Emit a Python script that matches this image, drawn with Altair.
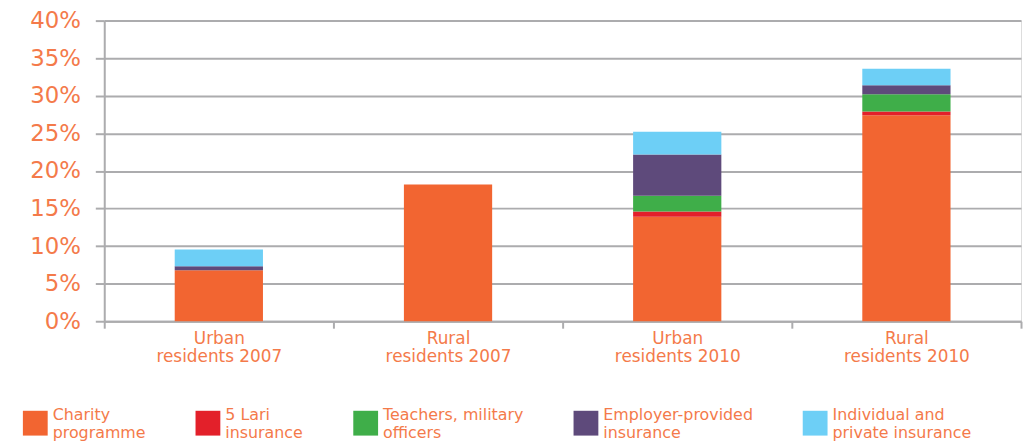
import altair as alt
import pandas as pd

groups = ["Urban|residents 2007", "Rural|residents 2007", "Urban|residents 2010", "Rural|residents 2010"]
series = ["Charity|programme", "5 Lari|insurance", "Teachers, military|officers",
          "Employer-provided|insurance", "Individual and|private insurance"]
colors = ["#F26531", "#E3202A", "#3FAE49", "#5E4A7B", "#6DCFF6"]

charity = [6.8, 18.2, 13.9, 27.4]
lari = [0.0, 0.0, 0.7, 0.5]
teachers = [0.0, 0.0, 2.1, 2.3]
employer = [0.5, 0.0, 5.5, 1.2]
individual = [2.25, 0.0, 3.0, 2.2]

values = [charity, lari, teachers, employer, individual]
rows = []
for si, (s, vals) in enumerate(zip(series, values)):
    for g, v in zip(groups, vals):
        rows.append({"group": g, "series": s, "value": v, "order": si})
df = pd.DataFrame(rows)

txt = "#F47A4A"
grid = "#ACACAE"
font = "DejaVu Sans"

chart = alt.Chart(df).mark_bar(width={"band": 0.385}).encode(
    x=alt.X("group:N", sort=groups, title=None,
            scale=alt.Scale(paddingInner=0, paddingOuter=0),
            axis=alt.Axis(labelExpr="split(datum.label, '|')", labelAngle=0,
                          labelFontSize=17, labelColor=txt, labelFont=font,
                          labelLineHeight=19,
                          tickBand="extent", tickSize=7, tickColor=grid, tickWidth=2,
                          domainColor=grid, domainWidth=2, labelPadding=2,
                          labelBaseline="top")),
    y=alt.Y("value:Q", stack="zero", title=None,
            scale=alt.Scale(domain=[0, 40], nice=False),
            axis=alt.Axis(values=[0, 5, 10, 15, 20, 25, 30, 35, 40],
                          labelExpr="datum.value + '%'", labelFontSize=23,
                          labelColor=txt, labelFont=font,
                          tickSize=9, tickColor=grid, tickWidth=2,
                          gridColor=grid, gridWidth=2, gridOpacity=1,
                          domainColor=grid, domainWidth=2, labelPadding=15)),
    color=alt.Color("series:N", sort=series,
                    scale=alt.Scale(domain=series, range=colors),
                    legend=alt.Legend(title=None, orient="none", legendX=-82, legendY=393,
                                      direction="horizontal", columns=5, columnPadding=50,
                                      symbolType="square", symbolSize=625,
                                      symbolStrokeWidth=0, symbolOpacity=1,
                                      labelExpr="split(datum.label, '|')",
                                      labelFontSize=16, labelColor=txt, labelFont=font,
                                      labelBaseline="bottom",
                                      labelOffset=5, labelLimit=300)),
    order=alt.Order("order:Q", sort="ascending"),
).properties(
    width=924, height=303,
    autosize=alt.AutoSizeParams(type="none"),
    padding={"left": 97, "top": 11, "right": 2, "bottom": 119},
).configure_view(stroke=None).configure(background="white")

chart.save("out.html", embed_options={"renderer": "svg", "actions": False})
